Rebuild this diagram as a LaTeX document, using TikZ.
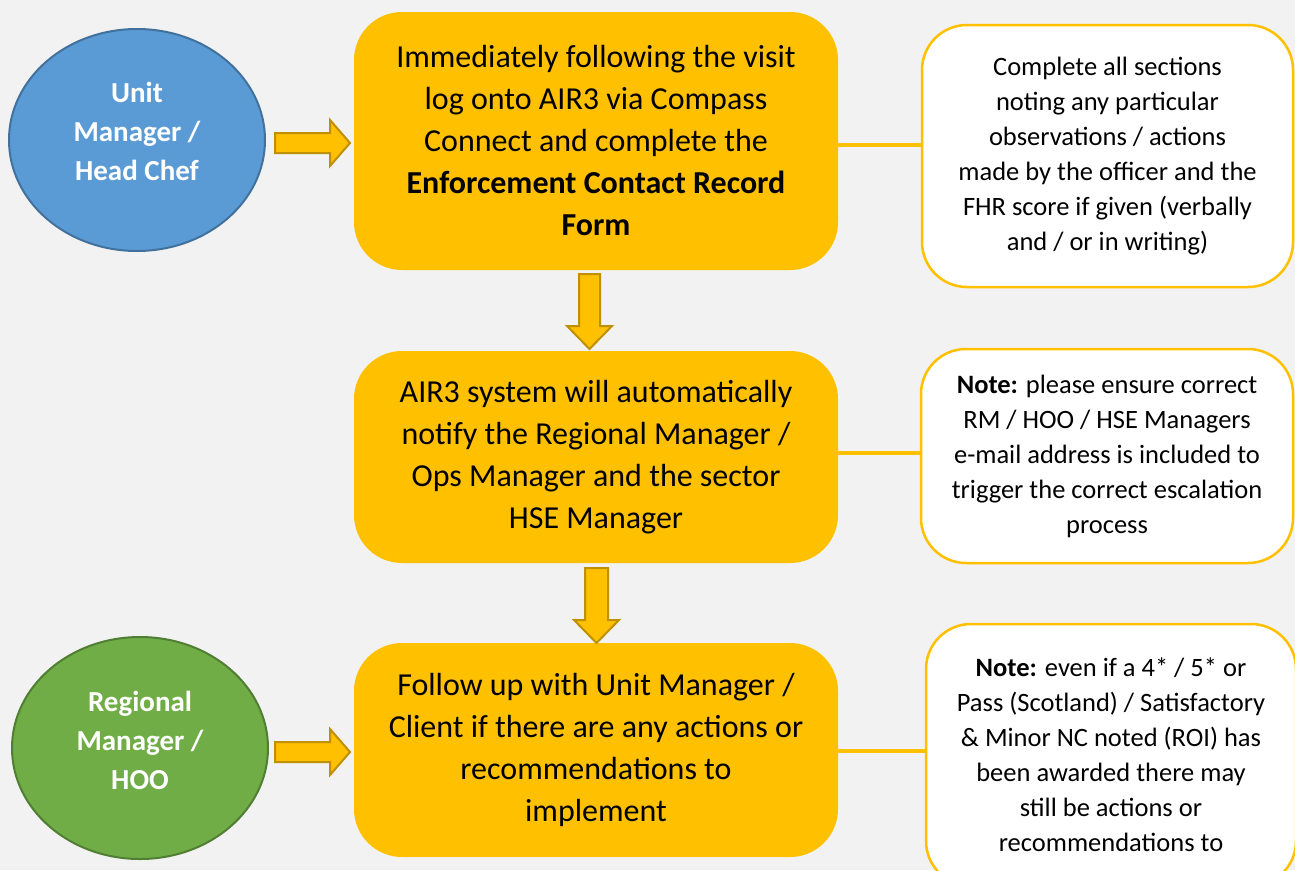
\documentclass[tikz,border=0pt]{standalone}
\usepackage{fontspec}
\setmainfont{Carlito}
\usetikzlibrary{shapes.geometric}
\definecolor{bg}{HTML}{F2F2F2}
\definecolor{gold}{HTML}{FFC000}
\definecolor{golddark}{HTML}{BF9000}
\definecolor{bluefill}{HTML}{5B9BD5}
\definecolor{blueline}{HTML}{41719C}
\definecolor{greenfill}{HTML}{70AD47}
\definecolor{greenline}{HTML}{507E32}
\tikzset{
  mainbox/.style={draw=none, fill=gold, rounded corners=48pt, minimum width=484pt, inner sep=0pt, align=center, font=\fontsize{32}{42}\selectfont},
  notebox/.style={draw=gold, line width=2.5pt, fill=white, rounded corners=45pt, inner sep=0pt, align=center, font=\fontsize{26.5}{35}\selectfont},
  rolebox/.style={ellipse, line width=2pt, minimum width=256pt, minimum height=222pt, inner sep=0pt},
  roletext/.style={text=white, align=center, font=\fontsize{29}{39}\selectfont\bfseries},
  blockarrow/.style={fill=gold, draw=golddark, line width=2pt, line join=miter},
  link/.style={draw=gold, line width=4pt}
}
\begin{document}
\begin{tikzpicture}[x=1pt,y=-1pt]
\fill[bg] (0,0) rectangle (1295,870);
\useasboundingbox (0,0) rectangle (1295,870);
\clip (0,0) rectangle (1295,870);

% role ellipses
\node[rolebox, fill=bluefill, draw=blueline] (um) at (137,140) {};
\node[roletext] (umt) at (137,131) {Unit\\Manager /\\Head Chef};
\node[rolebox, fill=greenfill, draw=greenline] (rm) at (140,748) {};
\node[roletext] (rmt) at (140,740) {Regional\\Manager /\\HOO};

% main boxes
\node[mainbox, minimum height=258pt] (b1) at (596,141)
  {Immediately following the visit\\log onto AIR3 via Compass\\Connect and complete the\\\textbf{Enforcement Contact Record}\\\textbf{Form}};
\node[mainbox, minimum height=212pt] (b2) at (596,457)
  {AIR3 system will automatically\\notify the Regional Manager /\\Ops Manager and the sector\\HSE Manager};
\node[mainbox, minimum height=214pt] (b3) at (596,750)
  {Follow up with Unit Manager /\\Client if there are any actions or\\recommendations to\\implement};

% note boxes
\node[notebox, minimum width=371pt, minimum height=262pt] (n1) at (1107.5,156)
  {Complete all sections\\noting any particular\\observations / actions\\made by the officer and the\\FHR score if given (verbally\\and / or in writing)};
\node[notebox, minimum width=372pt, minimum height=214pt] (n2) at (1107,456)
  {\textbf{Note:} please ensure correct\\RM / HOO / HSE Managers\\e-mail address is included to\\trigger the correct escalation\\process};
\node[notebox, minimum width=370pt, minimum height=262pt] (n3) at (1111,755)
  {\textbf{Note:} even if a 4* / 5* or\\Pass (Scotland) / Satisfactory\\\& Minor NC noted (ROI) has\\been awarded there may\\still be actions or\\recommendations to};

% links
\draw[link] ([yshift=-4pt]b1.east) -- ([yshift=-4pt]b1.east -| n1.west);
\draw[link] ([yshift=4pt]b2.east) -- ([yshift=4pt]b2.east -| n2.west);
\draw[link] ([yshift=-1pt]b3.east) -- ([yshift=-1pt]b3.east -| n3.west);

% block arrows
\draw[blockarrow] (275,133) -- (330,133) -- (330,120) -- (350,143) -- (330,166) -- (330,153) -- (275,153) -- cycle;
\draw[blockarrow] (275,742) -- (330,742) -- (330,729) -- (350,752) -- (330,775) -- (330,762) -- (275,762) -- cycle;
\draw[blockarrow] (579,274) -- (600,274) -- (600,326) -- (612,326) -- (589.5,349) -- (567,326) -- (579,326) -- cycle;
\draw[blockarrow] (585,568) -- (608,568) -- (608,620) -- (619,620) -- (596.5,643) -- (574,620) -- (585,620) -- cycle;
\end{tikzpicture}
\end{document}
